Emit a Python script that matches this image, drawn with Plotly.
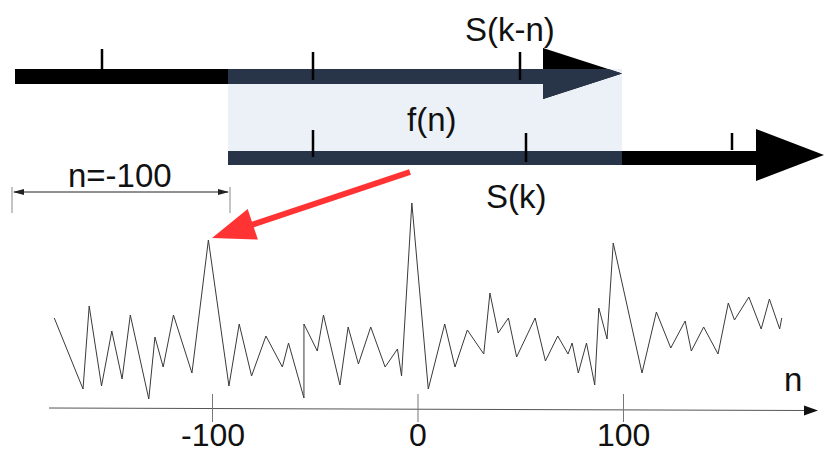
import plotly.graph_objects as go

# ---- data ----
n_values = [-177, -163, -160, -154, -149, -144, -140, -131, -128, -124, -119, -110, -102,
            -92, -87, -81, -74, -66, -63, -55.5, -55.5, -49, -46, -38, -34, -29, -23, -16,
            -10, -8, -3, 5, 13, 18, 24, 32, 35, 39, 44, 48, 57, 62, 68, 73, 75, 78, 82, 86,
            88, 92, 95, 109, 116, 123, 130, 133, 139, 146, 151, 154, 161, 167, 171, 176, 177]
corr_values = [90, 19, 102, 22, 77, 29, 93, 9, 71, 41, 93, 35, 168,
               22, 84, 32, 72, 41, 65, 10, 84, 57, 93, 23, 81, 44, 81, 41,
               59, 32, 205, 19, 84, 41, 78, 54, 115, 75, 90, 51, 90, 47, 72, 54, 65, 35, 65, 23,
               100, 69, 165, 35, 96, 60, 87, 57, 81, 54, 105, 88, 111, 79, 109, 79, 90]
tick_vals = [-100, 0, 100]
tick_text = ["-100", "0", "100"]

W, H = 824, 456
FONT = "Liberation Sans"
FS = 33

fig = go.Figure()
fig.add_trace(go.Scatter(x=n_values, y=corr_values, mode="lines",
                         line=dict(color="#3a3a3a", width=1), xaxis="x", yaxis="y",
                         hoverinfo="skip", showlegend=False))
# invisible helper trace on the pixel-space axes
fig.add_trace(go.Scatter(x=[0], y=[0], mode="markers", marker=dict(opacity=0),
                         xaxis="x2", yaxis="y2", hoverinfo="skip", showlegend=False))

shapes = []
def P(**kw):
    kw.setdefault("xref", "x2"); kw.setdefault("yref", "y2")
    shapes.append(kw)

BL = "#000000"
DK = "#283548"
# shaded window
P(type="rect", x0=228, x1=622, y0=69, y1=165, fillcolor="#ECF1F8", line=dict(width=0))
# top arrow S(k-n)
P(type="rect", x0=15, x1=545, y0=69, y1=84, fillcolor=BL, line=dict(width=0))
P(type="path", path="M543,48 L622,73.5 L543,99 Z", fillcolor=BL, line=dict(width=0))
# bottom arrow S(k)
P(type="rect", x0=228, x1=758, y0=151, y1=165, fillcolor=BL, line=dict(width=0))
P(type="path", path="M756,129 L824,155 L756,181 Z", fillcolor=BL, line=dict(width=0))
# overlap inside window
P(type="rect", x0=228, x1=545, y0=69, y1=84, fillcolor=DK, line=dict(width=0))
P(type="path", path="M543,69 L608,69 L622,73.5 L543,99 Z", fillcolor=DK, line=dict(width=0))
P(type="rect", x0=228, x1=622, y0=151, y1=165, fillcolor=DK, line=dict(width=0))
# bar ticks
for x, y0, y1 in [(102, 49, 70), (313, 52, 80), (520, 52, 80),
                  (313, 130, 157), (526, 133, 162), (732, 133, 150)]:
    P(type="line", x0=x, x1=x, y0=y0, y1=y1, line=dict(color=BL, width=2.5))
# dimension n=-100
P(type="line", x0=12, x1=12, y0=187, y1=213, line=dict(color="#888", width=1))
P(type="line", x0=230, x1=230, y0=187, y1=213, line=dict(color="#888", width=1))
P(type="line", x0=14, x1=228, y0=192, y1=192, line=dict(color="#222", width=1))
P(type="path", path="M13,192 L24,189 L24,195 Z", fillcolor="#222", line=dict(width=0))
P(type="path", path="M229,192 L218,189 L218,195 Z", fillcolor="#222", line=dict(width=0))
# red arrow
RED = "#FF3333"
P(type="line", x0=410, y0=172, x1=250, y1=225.5, line=dict(color=RED, width=6))
P(type="path", path="M212,238 L247.7,209 L257.9,239.6 Z", fillcolor=RED, line=dict(width=0))
# lower n axis
P(type="line", x0=49, y0=408, x1=806, y1=410.5, line=dict(color="#555", width=1))
P(type="path", path="M804,405.5 L818,410.5 L804,415.5 Z", fillcolor="#111", line=dict(width=0))
for tv in tick_vals:
    P(type="line", xref="x", x0=tv, x1=tv, y0=394, y1=422, line=dict(color="#777", width=1))

ann = []
def T(text, x, y, xref="x2", yanchor="middle", size=FS):
    ann.append(dict(text=text, x=x, y=y, xref=xref, yref="y2", showarrow=False,
                    xanchor="center", yanchor=yanchor,
                    font=dict(family=FONT, size=size, color="#111")))

T("S(k-n)", 510, 29)
T("f(n)", 432, 119)
T("S(k)", 516, 196)
T("n=-100", 120, 175)
T("n", 793, 379)
for tv, tt in zip(tick_vals, tick_text):
    T(tt, tv, 455, xref="x", yanchor="bottom", size=32)

px_per = (623.5 - 212.5) / 200.0
xr = [-100 - 212.5 / px_per, 100 + (W - 623.5) / px_per]

fig.update_layout(
    width=W, height=H, margin=dict(l=0, r=0, t=0, b=0),
    paper_bgcolor="white", plot_bgcolor="white",
    shapes=shapes, annotations=ann, showlegend=False,
    xaxis=dict(range=xr, visible=False, fixedrange=True),
    yaxis=dict(range=[-48, 408], visible=False, fixedrange=True),
    xaxis2=dict(range=[0, W], visible=False, overlaying="x", fixedrange=True),
    yaxis2=dict(range=[H, 0], visible=False, overlaying="y", fixedrange=True),
)
fig.write_html("out.html")
